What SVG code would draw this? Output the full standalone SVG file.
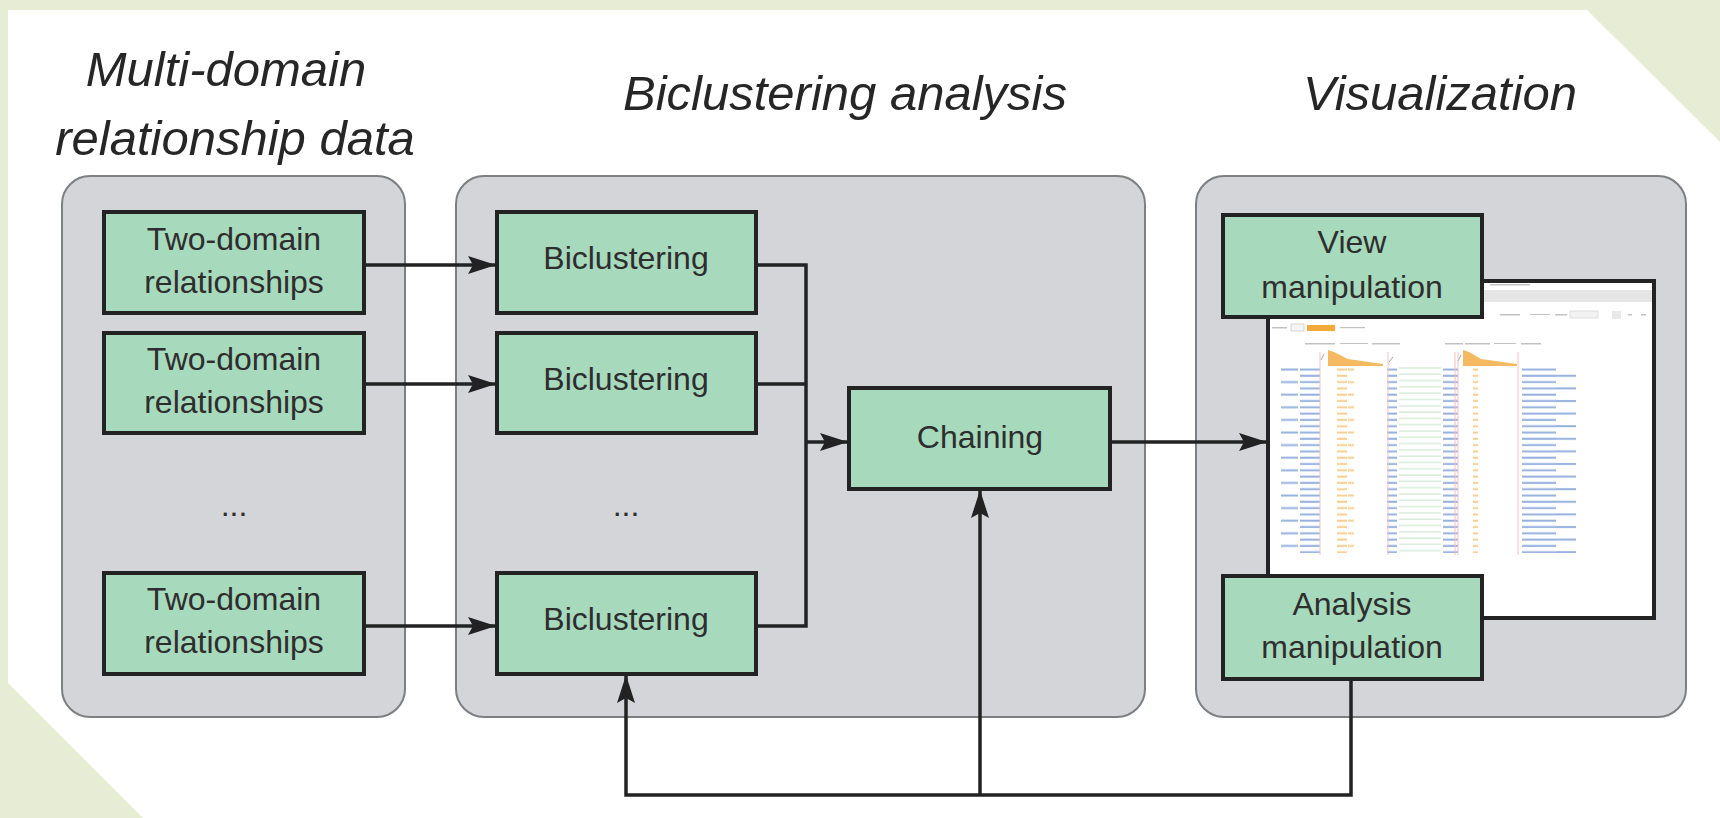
<svg xmlns="http://www.w3.org/2000/svg" width="1720" height="818" viewBox="0 0 1720 818">
<style>
.bg{fill:#e7edd5}
.page{fill:#ffffff}
.panel{fill:#d3d5d8;stroke:#7d7f82;stroke-width:2}
.box{fill:#a7d9bd;stroke:#232323;stroke-width:4}
.lbl{font-family:"Liberation Sans",Arial,sans-serif;font-size:32px;fill:#2e2e2e;text-anchor:middle}
.title{font-family:"Liberation Sans",Arial,sans-serif;font-style:italic;font-size:49px;fill:#262626;text-anchor:middle}
.conn{fill:none;stroke:#222222;stroke-width:3.5}
.pink{stroke:#f4c0c0;stroke-width:1;fill:none}
.blu{fill:#3f70c2;opacity:0.55}
.org{fill:#f3ae45;opacity:0.6}
.grn{fill:#86c48a;opacity:0.7}
.gry{fill:#c2c2c2}
</style>
<defs>
<marker id="ah" markerUnits="userSpaceOnUse" markerWidth="28" markerHeight="18" refX="27" refY="9" orient="auto">
<path d="M0,0 L28,9 L0,18 L5,9 z" fill="#222222"/>
</marker>
<pattern id="rowsA" patternUnits="userSpaceOnUse" x="1267" y="367" width="388" height="6.3">
<rect class="blu" x="33" y="1.5" width="20" height="2"/>
<rect class="org" x="70" y="1.5" width="10" height="2"/>
<rect class="blu" x="120" y="1.5" width="10" height="2"/>
<rect class="grn" x="132" y="0.6" width="42" height="0.7"/>
<rect class="blu" x="176" y="1.5" width="15" height="2"/>
<rect class="org" x="206" y="1.5" width="5" height="2"/>
<rect class="blu" x="255" y="1.5" width="34" height="2"/>
</pattern>
<pattern id="rowsB" patternUnits="userSpaceOnUse" x="1267" y="367" width="388" height="12.6">
<rect class="blu" x="14" y="1.5" width="17" height="2"/>
<rect class="org" x="81" y="1.5" width="6" height="2"/>
<rect class="blu" x="289" y="7.8" width="20" height="2"/>
</pattern>
</defs>

<g id="background">
<rect class="bg" x="0" y="0" width="1720" height="818"/>
<polygon class="page" points="8,10 1587,10 1720,142 1720,818 143,818 8,683"/>
</g>

<g id="titles">
<text class="title" x="226" y="86">Multi-domain</text>
<text class="title" x="235" y="155">relationship data</text>
<text class="title" x="845" y="110">Biclustering analysis</text>
<text class="title" x="1440" y="110">Visualization</text>
</g>

<g id="panels">
<rect id="panel-data" class="panel" x="62" y="176" width="343" height="541" rx="28"/>
<rect id="panel-analysis" class="panel" x="456" y="176" width="689" height="541" rx="28"/>
<rect id="panel-vis" class="panel" x="1196" y="176" width="490" height="541" rx="28"/>
</g>

<g id="screenshot">
<rect x="1268" y="281" width="386" height="337" fill="#ffffff" stroke="#232323" stroke-width="4"/>
<rect x="1482" y="290" width="170" height="12" fill="#e6e6e6"/>
<rect class="gry" x="1490" y="284" width="40" height="1.5"/>
<rect class="gry" x="1500" y="314" width="20" height="1.5"/>
<rect class="gry" x="1530" y="314" width="20" height="1"/>
<rect class="gry" x="1555" y="314" width="12" height="1.5"/>
<rect x="1570" y="311" width="28" height="7" fill="#f2f2f2" stroke="#d6d6d6" stroke-width="0.8"/>
<rect x="1612" y="311" width="9" height="8" fill="#e8e8e8"/>
<rect class="gry" x="1628" y="314" width="4" height="1.5"/>
<rect class="gry" x="1641" y="314" width="5" height="1.5"/>
<rect class="gry" x="1272" y="327" width="15" height="1.5"/>
<rect x="1291" y="324" width="13" height="7" fill="#f5f5f5" stroke="#cccccc" stroke-width="0.8"/>
<rect x="1307" y="325" width="28" height="6" fill="#f0a125" opacity="0.9"/>
<rect class="gry" x="1340" y="327" width="25" height="1.2"/>
<rect class="gry" x="1305" y="343" width="30" height="1.5"/>
<rect class="gry" x="1340" y="343" width="28" height="1"/>
<rect class="gry" x="1372" y="343" width="28" height="1.5"/>
<rect class="gry" x="1445" y="343" width="18" height="1.5"/>
<rect class="gry" x="1465" y="343" width="25" height="1.5"/>
<rect class="gry" x="1494" y="343" width="22" height="1"/>
<rect class="gry" x="1521" y="343" width="20" height="1.5"/>
<polygon points="1328,350 1334,352 1348,359 1383,364 1383,366 1328,366" fill="#f3a93a" opacity="0.8"/>
<polygon points="1463,350 1469,352 1481,359 1517,364 1517,366 1463,366" fill="#f3a93a" opacity="0.8"/>
<path d="M1321,360 L1324,354 M1389,362 L1393,357 M1458,361 L1461,355" stroke="#a0a0a0" stroke-width="1"/>
<rect x="1275" y="367" width="310" height="186" fill="url(#rowsA)"/>
<rect x="1275" y="367" width="310" height="186" fill="url(#rowsB)"/>
<path class="pink" d="M1320,352 V555 M1388,352 V555 M1455,352 V555 M1458,352 V555 M1518,352 V555"/>
</g>

<g id="node-td1">
<rect class="box" x="104" y="212" width="260" height="101"/>
<text class="lbl" x="234" y="250">Two-domain</text>
<text class="lbl" x="234" y="293">relationships</text>
</g>
<g id="node-td2">
<rect class="box" x="104" y="333" width="260" height="100"/>
<text class="lbl" x="234" y="370">Two-domain</text>
<text class="lbl" x="234" y="413">relationships</text>
</g>
<g id="node-td-dots">
<text class="lbl" x="234" y="516">...</text>
</g>
<g id="node-td3">
<rect class="box" x="104" y="573" width="260" height="101"/>
<text class="lbl" x="234" y="610">Two-domain</text>
<text class="lbl" x="234" y="653">relationships</text>
</g>

<g id="node-bc1">
<rect class="box" x="497" y="212" width="259" height="101"/>
<text class="lbl" x="626" y="269">Biclustering</text>
</g>
<g id="node-bc2">
<rect class="box" x="497" y="333" width="259" height="100"/>
<text class="lbl" x="626" y="390">Biclustering</text>
</g>
<g id="node-bc-dots">
<text class="lbl" x="626" y="516">...</text>
</g>
<g id="node-bc3">
<rect class="box" x="497" y="573" width="259" height="101"/>
<text class="lbl" x="626" y="630">Biclustering</text>
</g>

<g id="node-chaining">
<rect class="box" x="849" y="388" width="261" height="101"/>
<text class="lbl" x="980" y="448">Chaining</text>
</g>

<g id="node-view">
<rect class="box" x="1223" y="215" width="259" height="102"/>
<text class="lbl" x="1352" y="253">View</text>
<text class="lbl" x="1352" y="298">manipulation</text>
</g>
<g id="node-analysis">
<rect class="box" x="1223" y="576" width="259" height="103"/>
<text class="lbl" x="1352" y="615">Analysis</text>
<text class="lbl" x="1352" y="658">manipulation</text>
</g>

<g id="connectors">
<path class="conn" d="M366,265 H495" marker-end="url(#ah)"/>
<path class="conn" d="M366,384 H495" marker-end="url(#ah)"/>
<path class="conn" d="M366,626 H495" marker-end="url(#ah)"/>
<path class="conn" d="M758,265 H806 V626 H758"/>
<path class="conn" d="M758,384 H806"/>
<path class="conn" d="M806,442 H847" marker-end="url(#ah)"/>
<path class="conn" d="M1112,442 H1266" marker-end="url(#ah)"/>
<path class="conn" d="M1351,681 V795 H626 V676" marker-end="url(#ah)"/>
<path class="conn" d="M980,795 V491" marker-end="url(#ah)"/>
</g>
</svg>
